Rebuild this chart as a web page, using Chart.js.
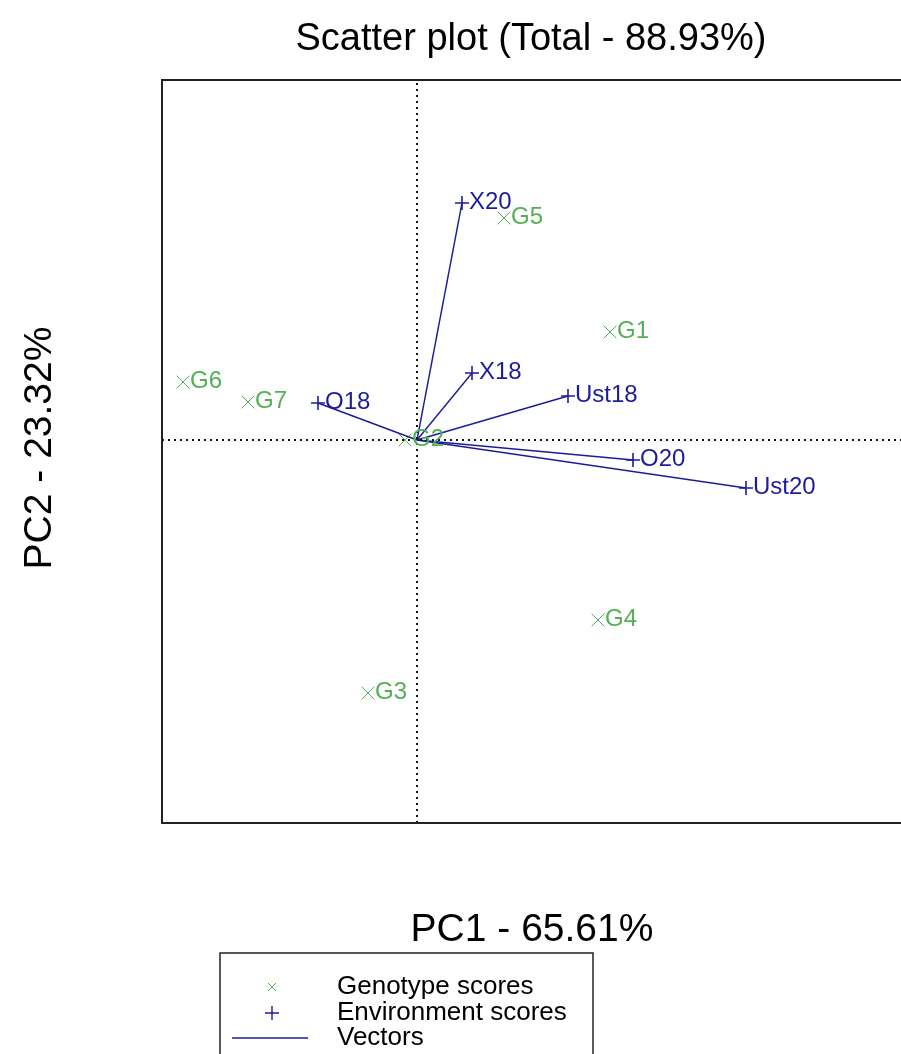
<!DOCTYPE html>
<html>
<head>
<meta charset="utf-8">
<script src="https://cdn.jsdelivr.net/npm/chart.js@4"></script>
<style>
  html, body { margin: 0; padding: 0; background: #fff; overflow: hidden; }
  #wrap { width: 1000px; height: 1054px; }
</style>
</head>
<body>
<div id="wrap"><canvas id="canvas" width="1000" height="1054"></canvas></div>
<script>
// genotype scores
var genoNames = ['G1', 'G2', 'G3', 'G4', 'G5', 'G6', 'G7'];
var genoPC1 = [1.93, -0.12, -0.49, 1.81, 0.87, -2.34, -1.69];
var genoPC2 = [1.08, 0.00, -2.53, -1.80, 2.22, 0.58, 0.38];

// environment scores
var envNames = ['X20', 'X18', 'Ust18', 'O18', 'O20', 'Ust20'];
var envPC1 = [0.45, 0.55, 1.51, -0.99, 2.16, 3.29];
var envPC2 = [2.37, 0.67, 0.44, 0.37, -0.20, -0.48];

// axis limits
var xLim = [-2.55, 4.88];
var yLim = [-3.83, 3.60];

var green = '#52b052';
var navy = '#1c1c9a';
var font = '"Liberation Sans", Arial, sans-serif';

var geno = genoNames.map(function (n, i) { return { x: genoPC1[i], y: genoPC2[i], label: n }; });
var env = envNames.map(function (n, i) { return { x: envPC1[i], y: envPC2[i], label: n }; });

var datasets = [
  { data: [{ x: xLim[0], y: 0 }, { x: xLim[1], y: 0 }], showLine: true, borderColor: '#111', borderWidth: 2, borderDash: [2, 4], pointRadius: 0 },
  { data: [{ x: 0, y: yLim[0] }, { x: 0, y: yLim[1] }], showLine: true, borderColor: '#111', borderWidth: 2, borderDash: [2, 4], pointRadius: 0 }
];
env.forEach(function (p) {
  datasets.push({ data: [{ x: 0, y: 0 }, { x: p.x, y: p.y }], showLine: true, borderColor: navy, borderWidth: 1.4, pointRadius: 0 });
});
datasets.push({ data: geno, pointStyle: 'crossRot', pointRadius: 9, borderColor: green, borderWidth: 1, backgroundColor: green, isLabelled: true, labelColor: green });
datasets.push({ data: env, pointStyle: 'cross', pointRadius: 7, borderColor: navy, borderWidth: 1.6, backgroundColor: navy, isLabelled: true, labelColor: navy });

var extras = {
  id: 'extras',
  afterDraw: function (chart) {
    var ctx = chart.ctx, a = chart.chartArea;
    ctx.save();
    // box
    ctx.strokeStyle = '#222';
    ctx.lineWidth = 2;
    ctx.strokeRect(a.left, a.top, a.right - a.left, a.bottom - a.top);

    // point labels
    ctx.font = '24px ' + font;
    ctx.textAlign = 'left';
    ctx.textBaseline = 'middle';
    chart.data.datasets.forEach(function (ds, di) {
      if (!ds.isLabelled) return;
      var meta = chart.getDatasetMeta(di);
      ctx.fillStyle = ds.labelColor;
      meta.data.forEach(function (el, i) {
        ctx.fillText(ds.data[i].label, el.x + 7, el.y - 1);
      });
    });

    // title and axis titles
    ctx.fillStyle = '#000';
    ctx.textAlign = 'center';
    ctx.font = '38px ' + font;
    ctx.fillText('Scatter plot (Total - 88.93%)', 531, 40);
    ctx.font = '39px ' + font;
    ctx.fillText('PC1 - 65.61%', 532, 930);
    ctx.save();
    ctx.translate(40, 448);
    ctx.rotate(-Math.PI / 2);
    ctx.fillText('PC2 - 23.32%', 0, 0);
    ctx.restore();

    // legend
    ctx.strokeStyle = '#222';
    ctx.lineWidth = 1.5;
    ctx.strokeRect(220, 953, 373, 140);
    ctx.font = '26px ' + font;
    ctx.textAlign = 'left';
    ctx.fillStyle = '#000';
    ctx.fillText('Genotype scores', 337, 987);
    ctx.fillText('Environment scores', 337, 1013);
    ctx.fillText('Vectors', 337, 1038);
    ctx.strokeStyle = green;
    ctx.lineWidth = 1;
    ctx.beginPath();
    ctx.moveTo(268, 983); ctx.lineTo(276, 991);
    ctx.moveTo(276, 983); ctx.lineTo(268, 991);
    ctx.stroke();
    ctx.strokeStyle = navy;
    ctx.lineWidth = 1.4;
    ctx.beginPath();
    ctx.moveTo(265, 1013); ctx.lineTo(279, 1013);
    ctx.moveTo(272, 1006); ctx.lineTo(272, 1020);
    ctx.moveTo(232, 1038); ctx.lineTo(308, 1038);
    ctx.stroke();
    ctx.restore();
  }
};

var ctx = document.getElementById('canvas').getContext('2d');
var myChart = new Chart(ctx, {
  type: 'scatter',
  data: { datasets: datasets },
  options: {
    responsive: false,
    animation: false,
    devicePixelRatio: 1,
    layout: { padding: { left: 162, top: 80, right: 95, bottom: 231 } },
    plugins: { legend: { display: false }, tooltip: { enabled: false } },
    scales: {
      x: { type: 'linear', display: false, min: xLim[0], max: xLim[1] },
      y: { type: 'linear', display: false, min: yLim[0], max: yLim[1] }
    }
  },
  plugins: [extras]
});
</script>
</body>
</html>
